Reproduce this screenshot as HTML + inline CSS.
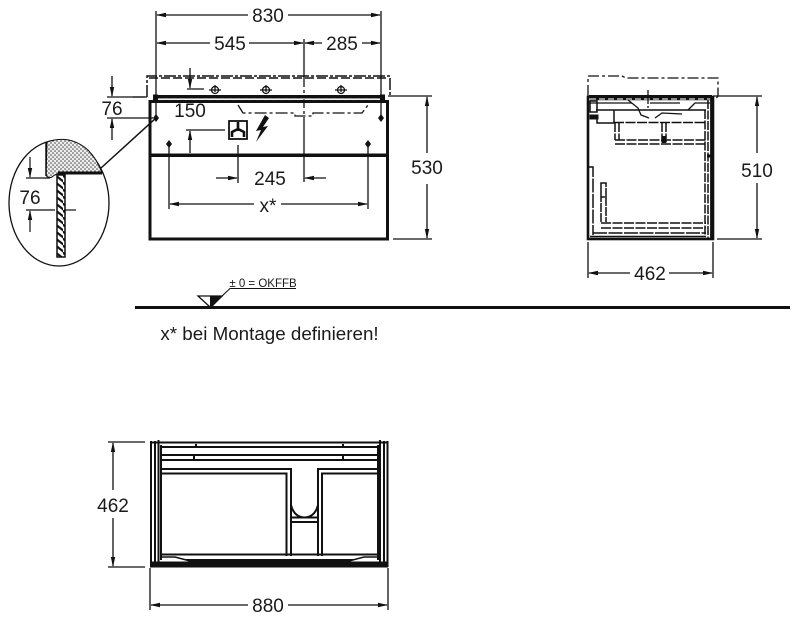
<!DOCTYPE html>
<html><head><meta charset="utf-8"><style>
html,body{margin:0;padding:0;background:#fff}
svg{display:block;filter:blur(.35px)}
text{font-family:"Liberation Sans",sans-serif;font-size:19px;fill:#1a1a1a;text-anchor:middle}
</style></head><body>
<svg width="800" height="624" viewBox="0 0 800 624" xmlns="http://www.w3.org/2000/svg">
<defs>
<marker id="a" markerWidth="10" markerHeight="6" refX="9" refY="3" orient="auto-start-reverse" markerUnits="userSpaceOnUse"><path d="M0,.8L10,3L0,5.2z" fill="#111"/></marker>
<pattern id="dots" width="4" height="4" patternUnits="userSpaceOnUse"><rect width="4" height="4" fill="#eee"/><circle cx="1" cy="1" r=".8" fill="#444"/><circle cx="3" cy="3" r=".8" fill="#444"/></pattern>
<pattern id="hatch" width="7" height="7" patternUnits="userSpaceOnUse"><rect width="7" height="7" fill="#fff"/><path d="M-1,0L8,7M-1,-7L8,0" stroke="#111" stroke-width="2.2"/></pattern>
</defs>
<g fill="none" stroke="#111" stroke-width="1.300">
<!-- FRONT dims -->
<path d="M156 11V115M381 11V115"/>
<path d="M157 15H248" marker-start="url(#a)"/>
<path d="M288 15H380" marker-end="url(#a)"/>
<path d="M157 43H210" marker-start="url(#a)"/><path d="M249 43H303" marker-end="url(#a)"/>
<path d="M305 43H322" marker-start="url(#a)"/><path d="M362 43H380" marker-end="url(#a)"/>
<path d="M304 39V75M304 120V182"/>
<path d="M304 75V120" stroke-dasharray="12 3 3 3"/>
<!-- worktop dashed -->
<path d="M147 97V76H390V97" stroke-dasharray="12 2 3 2" stroke-width="1.500"/>
<path d="M149 78H389" stroke-dasharray="9 3" stroke-width="1.500"/>
<path d="M133 97H147M388 96H390"/>
<!-- 150 dim -->
<path d="M190 68V88" marker-end="url(#a)"/>
<path d="M187 89H204"/>
<path d="M186 130H225"/>
<path d="M190 153V131" marker-end="url(#a)"/>
<!-- 76 dim -->
<path d="M112 76V96" marker-end="url(#a)"/>
<path d="M107 97H145M107 118H153"/>
<path d="M112 140V119" marker-end="url(#a)"/>
<!-- sink dash-dot -->
<path d="M238 105L243 113H295V116H313V113H362L368 105" stroke-dasharray="12 3 3 3"/>
<!-- 245 -->
<path d="M238 145V183"/>
<path d="M216 178H237" marker-end="url(#a)"/>
<path d="M326 178H305" marker-end="url(#a)"/>
<!-- x* -->
<path d="M169 147V209M368 147V209"/>
<path d="M170 204H254" marker-start="url(#a)"/>
<path d="M281 204H367" marker-end="url(#a)"/>
<!-- 530 -->
<path d="M390 96H432M393 239H432"/>
<path d="M427 97V153" marker-start="url(#a)"/>
<path d="M427 184V238" marker-end="url(#a)"/>
<!-- leader -->
<path d="M156 118L101 168" stroke-width="1.500"/>
</g>
<!-- cabinet -->
<rect x="150" y="101.500" width="237.500" height="137.500" fill="none" stroke="#111" stroke-width="3"/>
<rect x="150" y="153.500" width="238" height="3.500" fill="#111"/>
<rect x="153" y="95" width="231" height="3.500" fill="#111"/>
<rect x="150" y="100" width="238" height="2.500" fill="#111"/>
<path d="M155 98.800H383" stroke="#ccc" stroke-width="1.200" stroke-dasharray="6 2"/>
<rect x="153" y="94.500" width="5" height="6" fill="#111"/><rect x="380" y="94.500" width="5" height="6" fill="#111"/>
<!-- faucets -->
<g fill="none" stroke="#111" stroke-width="1.300">
<circle cx="215" cy="90" r="3.500"/><path d="M209 90H221M215 85V92"/>
<circle cx="266" cy="90" r="3.500"/><path d="M260 90H272M266 85V92"/>
<circle cx="341" cy="90" r="3.500"/><path d="M335 90H347M341 85V92"/>
</g>
<!-- screw marks -->
<g fill="#111">
<path d="M156 114L159 118L156 122L153 118z"/>
<path d="M381 114L384 118L381 122L378 118z"/>
<path d="M169 140L172 144L169 148L166 144z"/>
<path d="M368 140L371 144L368 148L365 144z"/>
<path d="M71 206L75 210.500L71 215L67 210.500z"/>
</g>
<!-- socket -->
<rect x="229" y="121" width="18" height="18" fill="#fff" stroke="#111" stroke-width="1.800"/>
<path d="M238 122V131M232 137V132L238 129L244 132V137" fill="none" stroke="#111" stroke-width="2.600"/>
<!-- lightning -->
<path d="M265 115L256 131L261 130L256 142L268 126L263 127L269 118z" fill="#111"/>
<!-- detail circle -->
<ellipse cx="59" cy="203" rx="50" ry="63" fill="#fff" stroke="#111" stroke-width="1.300"/>
<path d="M47 142Q70 134 88 150Q97 159 102 173H62Q55 174 52 177Q48 179 46 175z" fill="url(#dots)" stroke="#111" stroke-width="1"/>
<path d="M46 142V176" stroke="#111" stroke-width="1.500"/>
<rect x="58" y="171.500" width="44" height="3" fill="#111"/>
<rect x="57" y="175" width="8" height="82" fill="url(#hatch)" stroke="#111" stroke-width="1.500"/>
<g fill="none" stroke="#111" stroke-width="1.200">
<path d="M26 178H50M26 210H55"/>
<path d="M30 157V177" marker-end="url(#a)"/>
<path d="M30 232V211" marker-end="url(#a)"/>
<path d="M64 210H76"/>
</g>
<!-- SIDE view -->
<g fill="none" stroke="#111">
<path d="M588 96V76H622L626 78H718V96L715 100" stroke-width="1.300" stroke-dasharray="11 3 3 3"/>
<rect x="588" y="97" width="125" height="142" stroke-width="2.600"/>
<path d="M589 96.500H712" stroke-width="3"/>
<path d="M590 99H711" stroke-width="2.400"/>
<path d="M590 99H711" stroke="#ddd" stroke-width="1.200" stroke-dasharray="6 3"/>
<path d="M589 103H632M650 103H680" stroke-width="1.300"/>
<path d="M628 100L638 108L641 115L649 118M655 118L662 113L682 114M688 110L695 103H710" stroke-width="1.300"/>
<path d="M596 110H614V123H597V118M614 110H706" stroke-width="1.500"/>
<path d="M590 101H597V112H590z" stroke-width="1.500"/>
<path d="M590 115H598V119H590z" fill="#111" stroke-width="1"/>
<path d="M705 110V237M708 100V238" stroke-width="1.500" stroke-dasharray="9 1.500"/>
<path d="M711.500 98V239" stroke-width="2.800"/>
<path d="M707 156H712" stroke-width="3"/>
<path d="M615 123V140M619 123V140M662 123V143M666 123V143" stroke-width="1.500" stroke-dasharray="9 1.500"/>
<rect x="662" y="136" width="4" height="7" fill="#111" stroke="none"/>
<path d="M614 122.500H706M615 140H706M615 144H706" stroke-width="1.500" stroke-dasharray="10 1.500"/>
<path d="M601 183H606V197H601zM601 183V222M606 197V222" stroke-width="1.500" stroke-dasharray="9 1"/>
<path d="M601 223H706M601 228H706" stroke-width="1.500" stroke-dasharray="10 1.500"/>
<path d="M589 167H593V235M593 233H706" stroke-width="1.500" stroke-dasharray="14 1.500"/>
<path d="M590 236.500H706" stroke-width="1.600"/>
</g>
<g fill="none" stroke="#111" stroke-width="1.300">
<path d="M648 90V108" stroke-dasharray="6 2"/>
<path d="M713 96H762M717 239H762"/>
<path d="M757 97V153" marker-start="url(#a)"/>
<path d="M757 183V238" marker-end="url(#a)"/>
<path d="M588 242V278M713 242V278"/>
<path d="M589 273H630" marker-start="url(#a)"/>
<path d="M669 273H712" marker-end="url(#a)"/>
</g>
<!-- ground -->
<rect x="135" y="306" width="655" height="3" fill="#111"/>
<path d="M198 296H222L210 307z" fill="#fff" stroke="#111" stroke-width="1.300"/>
<path d="M210 296H223L212 307H210z" fill="#111"/>
<path d="M222 296L230 288.500H296" fill="none" stroke="#111" stroke-width="1.100"/>
<text x="263" y="287" style="font-size:11.500px">± 0 = OKFFB</text>
<text x="269.500" y="340" style="font-size:18.800px">x* bei Montage definieren!</text>
<!-- TOP-DOWN view -->
<g fill="none" stroke="#111" stroke-width="2">
<path d="M150 442.500H388"/>
<path d="M151 441V567M155 441V566M158.500 440V566M161 445V560M387.500 441V567M384 441V566M380 440V566M378 445V560"/>
<path d="M160 447H379M160 455H379M160 460H379"/>
<path d="M161 469H291V556M161 473.500H286.500V556M378 469H318V556M378 473.500H322V556"/>
<path d="M291 505Q294 517 304.500 517.500Q315 517 318 505"/>
<path d="M291 517.500H318M291 522H318"/>
<path d="M161 554.500H378"/>
<path d="M161 557H175L190 561H349L364 557H378" stroke-width="1.500"/>
</g>
<rect x="195" y="444" width="2" height="3" fill="#111"/><rect x="342" y="444" width="2" height="3" fill="#111"/>
<rect x="193" y="456" width="2" height="4" fill="#111"/><rect x="342" y="456" width="2" height="4" fill="#111"/>
<rect x="150" y="561.500" width="238" height="6" fill="#111"/>
<path d="M183 559L190 562H349L356 559z" fill="#111"/>
<g fill="none" stroke="#111" stroke-width="1.300">
<path d="M108 442H145M108 567H145"/>
<path d="M113 443V490" marker-start="url(#a)"/>
<path d="M113 518V566" marker-end="url(#a)"/>
<path d="M150 568V610M388 568V610"/>
<path d="M151 605H248" marker-start="url(#a)"/>
<path d="M288 605H387" marker-end="url(#a)"/>
</g>
<!-- labels -->
<text x="268" y="22">830</text>
<text x="230" y="50">545</text>
<text x="342" y="50">285</text>
<text x="112" y="115">76</text>
<text x="190" y="117">150</text>
<text x="270" y="185">245</text>
<text x="268" y="212">x*</text>
<text x="427" y="174">530</text>
<text x="30" y="204">76</text>
<text x="757" y="177">510</text>
<text x="650" y="280">462</text>
<text x="113" y="512">462</text>
<text x="268" y="612">880</text>
</svg>
</body></html>
